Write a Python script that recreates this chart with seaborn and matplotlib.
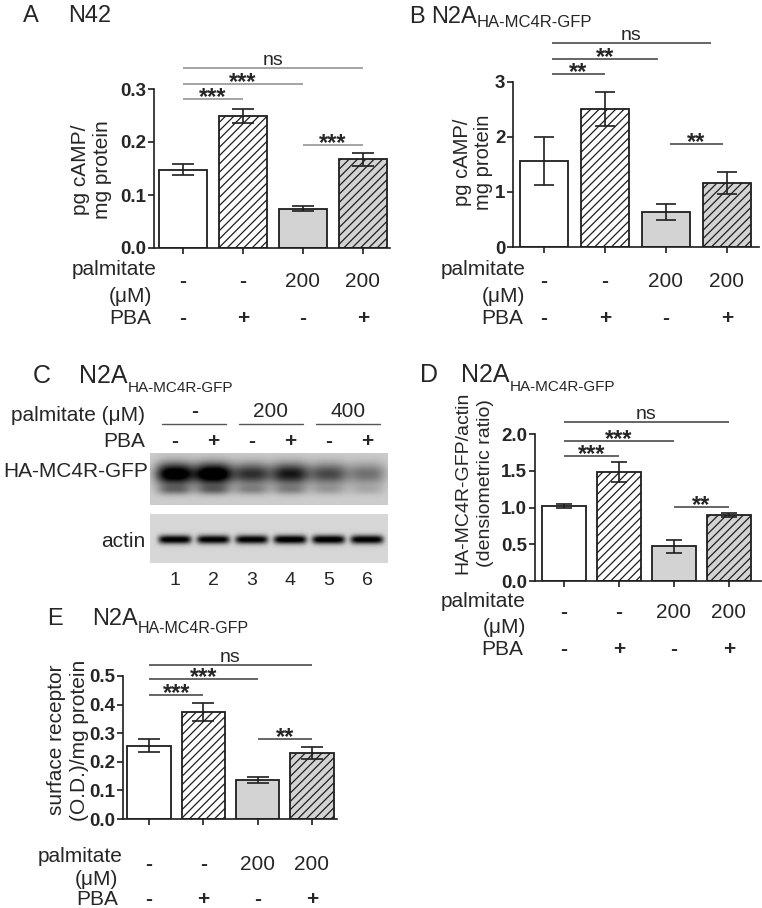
import numpy as np
import pandas as pd
import matplotlib
matplotlib.use("Agg")
import matplotlib.pyplot as plt
import matplotlib.transforms as mtransforms
import seaborn as sns

W, H = 762, 908

# ---------------- data ----------------
conditions = ["ctrl", "PBA", "palmitate", "palmitate+PBA"]
palmitate_labels = ["-", "-", "200", "200"]
pba_labels = ["-", "+", "-", "+"]

a_means = [0.148, 0.249, 0.074, 0.167]
a_errs = [0.011, 0.013, 0.005, 0.012]
a_yticks = [0.0, 0.1, 0.2, 0.3]
a_yticklabels = ["0.0", "0.1", "0.2", "0.3"]
a_sig = [(0, 1, 0.281, "***"), (0, 2, 0.309, "***"), (0, 3, 0.340, "ns"), (2, 3, 0.194, "***")]

b_means = [1.56, 2.51, 0.64, 1.16]
b_errs = [0.44, 0.31, 0.15, 0.205]
b_yticks = [0, 1, 2, 3]
b_yticklabels = ["0", "1", "2", "3"]
b_sig = [(0.13, 1.0, 3.15, "**"), (0.13, 1.87, 3.42, "**"), (0.13, 2.74, 3.71, "ns"), (2.07, 2.93, 1.87, "**")]

d_means = [1.02, 1.48, 0.47, 0.90]
d_errs = [0.03, 0.135, 0.09, 0.03]
d_yticks = [0.0, 0.5, 1.0, 1.5, 2.0]
d_yticklabels = ["0.0", "0.5", "1.0", "1.5", "2.0"]
d_sig = [(0, 1, 1.70, "***"), (0, 2, 1.90, "***"), (0, 3, 2.16, "ns"), (2, 3, 1.01, "**")]

e_means = [0.256, 0.374, 0.137, 0.232]
e_errs = [0.023, 0.033, 0.010, 0.021]
e_yticks = [0.0, 0.1, 0.2, 0.3, 0.4, 0.5]
e_yticklabels = ["0.0", "0.1", "0.2", "0.3", "0.4", "0.5"]
e_sig = [(0, 1, 0.432, "***"), (0, 2, 0.491, "***"), (0, 3, 0.54, "ns"), (2, 3, 0.279, "**")]

# western blot (panel C)
lane_numbers = ["1", "2", "3", "4", "5", "6"]
blot_palmitate_groups = ["-", "200", "400"]
blot_pba = ["-", "+", "-", "+", "-", "+"]
mc4r_band = [0.95, 1.0, 0.62, 0.72, 0.52, 0.36]
mc4r_lower_band = [0.30, 0.32, 0.22, 0.22, 0.14, 0.10]
actin_band = [0.92, 0.9, 0.9, 0.95, 0.95, 0.92]

# ---------------- style ----------------
sns.set_style("ticks")
plt.rcParams["font.family"] = ["Liberation Sans", "DejaVu Sans"]
ink = "#1e1e1e"
plt.rcParams["hatch.color"] = ink
plt.rcParams["hatch.linewidth"] = 0.9
bar_fills = ["#ffffff", "#ffffff", "#d3d3d3", "#d3d3d3"]
bar_hatches = ["", "////", "", "////"]

fig = plt.figure(figsize=(W / 100, H / 100), dpi=100)
fig.patch.set_facecolor("white")


def px_rect(l, t, r, b):
    return [l / W, 1 - b / H, (r - l) / W, (b - t) / H]


def fy(y):
    return 1 - y / H


def title(letter, letter_x, main_x, baseline, main, sub=None, size=17, subsize=11.5, drop=8):
    fig.text(letter_x / W, fy(baseline), letter, fontsize=size, va="baseline", ha="left")
    t = fig.text(main_x / W, fy(baseline), main, fontsize=size, va="baseline", ha="left")
    if sub:
        r = fig.canvas.get_renderer()
        bb = t.get_window_extent(renderer=r)
        fig.text(bb.x1 / W, fy(baseline + drop), sub, fontsize=subsize, va="baseline", ha="left")


def bar_panel(rect, xlim, ylim, yticks, yticklabels, means, errs, sig, capsize,
              sig_color, rows, ylabel, ylabel_xy, ylabel_size=15, ylabel_ls=1.0):
    ax = fig.add_axes(px_rect(*rect))
    df = pd.DataFrame({"condition": conditions, "value": means})
    sns.barplot(data=df, x="condition", y="value", hue="condition", order=conditions,
                hue_order=conditions, palette=dict(zip(conditions, bar_fills)),
                width=0.8, errorbar=None, legend=False, saturation=1,
                edgecolor=ink, linewidth=1.3, ax=ax)
    for p, h in zip(ax.patches, bar_hatches):
        p.set_hatch(h)
    ax.errorbar(np.arange(len(means)), means, yerr=errs, fmt="none", ecolor=ink,
                elinewidth=1.2, capsize=capsize, capthick=1.2, zorder=5)
    for x1, x2, y, label in sig:
        ax.plot([x1, x2], [y, y], color=sig_color, lw=1.1, clip_on=False,
                solid_capstyle="butt")
        if label == "ns":
            ax.annotate(label, xy=((x1 + x2) / 2, y), xytext=(0, 3),
                        textcoords="offset pixels", ha="center", va="baseline",
                        fontsize=14, annotation_clip=False)
        else:
            ax.annotate(label, xy=((x1 + x2) / 2, y), xytext=(0, -5),
                        textcoords="offset pixels", ha="center", va="baseline",
                        fontsize=17, fontweight="bold", annotation_clip=False)
    ax.set_xlim(*xlim)
    ax.set_ylim(*ylim)
    ax.set_yticks(yticks)
    ax.set_yticklabels(yticklabels, fontweight="bold", fontsize=13.5)
    ax.set_xticks(np.arange(len(means)))
    ax.set_xticklabels([])
    ax.set_xlabel("")
    ax.set_ylabel("")
    for s in ["top", "right"]:
        ax.spines[s].set_visible(False)
    for s in ["left", "bottom"]:
        ax.spines[s].set_linewidth(1.2)
        ax.spines[s].set_color(ink)
    ax.tick_params(direction="out", length=4.5, width=1.2, color=ink, pad=1)
    ax.patch.set_alpha(0)

    palm_y, val_y, um_y, pba_y, lab_r, um_r, pba_r = rows
    trans = mtransforms.blended_transform_factory(ax.transData, fig.transFigure)
    for i, (pl, pb) in enumerate(zip(palmitate_labels, pba_labels)):
        ax.text(i, fy(val_y), pl, transform=trans, ha="center", va="baseline", fontsize=15,
                fontweight="bold" if pl in "-+" else "normal")
        ax.text(i, fy(pba_y), pb, transform=trans, ha="center", va="baseline", fontsize=15,
                fontweight="bold")
    fig.text(lab_r / W, fy(palm_y), "palmitate", ha="right", va="baseline", fontsize=15)
    fig.text(um_r / W, fy(um_y), "(μM)", ha="right", va="baseline", fontsize=15)
    fig.text(pba_r / W, fy(pba_y), "PBA", ha="right", va="baseline", fontsize=15)
    fig.text(ylabel_xy[0] / W, fy(ylabel_xy[1]), ylabel, rotation=90, ha="center",
             va="center", multialignment="center", fontsize=ylabel_size,
             linespacing=ylabel_ls)
    return ax


# ---------------- panel A ----------------
title("A", 23, 68, 22, "N42")
bar_panel((154, 89, 390, 248), (-0.483, 3.45), (0, 0.3), a_yticks, a_yticklabels,
          a_means, a_errs, a_sig, 8, "#8c8c8c",
          (275, 287, 302, 324, 157, 152, 151), "pg cAMP/\nmg protein", (92, 170),
          15, 1.2)

# ---------------- panel B ----------------
title("B", 409, 431, 23, "N2A", "HA-MC4R-GFP", 17, 12, 4)
bar_panel((513, 82, 759, 247), (-0.508, 3.525), (0, 3), b_yticks, b_yticklabels,
          b_means, b_errs, b_sig, 7, "#3c3c3c",
          (275, 287, 302, 324, 526, 525, 523), "pg cAMP/\nmg protein", (473, 162),
          14.5, 1.1)

# ---------------- panel C (western blot) ----------------
title("C", 33, 79, 383, "N2A", "HA-MC4R-GFP", 18, 11, 9)
lane_x0, lane_step = 175.0, 38.4
lane_x = [lane_x0 + i * lane_step for i in range(len(lane_numbers))]

blot_l, blot_r = 150, 388


def blot_axes(top, bottom, bands, bg):
    ax = fig.add_axes(px_rect(blot_l, top, blot_r, bottom))
    w, h = blot_r - blot_l, bottom - top
    X, Y = np.meshgrid(np.arange(w) + 0.5 + blot_l, np.arange(h) + 0.5)
    dark = np.full(X.shape, bg)
    for yc, sy, hw, pw, intens in bands:
        for xc, I in zip(lane_x, intens):
            dark += I * np.exp(-(np.abs(X - xc) / hw) ** pw) * np.exp(-((Y - yc) / sy) ** 2)
    gray = 1 - np.clip(dark, 0, 1)
    ax.imshow(gray, cmap="gray", vmin=0, vmax=1, aspect="auto",
              interpolation="bilinear", extent=(blot_l, blot_r, h, 0))
    ax.axis("off")
    return ax


blot_axes(453, 505, [(21, 11, 19, 3, mc4r_band), (37, 5, 17, 3, mc4r_lower_band)], 0.2)
blot_axes(514, 563, [(26, 4.2, 16.5, 6, actin_band)], 0.16)

fig.text(145 / W, fy(421), "palmitate (μM)", ha="right", va="baseline", fontsize=15)
for g, lab in enumerate(blot_palmitate_groups):
    cx = (lane_x[2 * g] + lane_x[2 * g + 1]) / 2
    fig.text(cx / W, fy(417), lab, ha="center", va="baseline", fontsize=15,
             fontweight="bold" if lab == "-" else "normal")
    fig.add_artist(plt.Line2D([(cx - 32) / W, (cx + 32) / W], [fy(424), fy(424)],
                              transform=fig.transFigure, color="#555555", lw=1.0))
fig.text(145 / W, fy(447), "PBA", ha="right", va="baseline", fontsize=15)
for x, s in zip(lane_x, blot_pba):
    fig.text(x / W, fy(447), s, ha="center", va="baseline", fontsize=15, fontweight="bold")
fig.text(148 / W, fy(477), "HA-MC4R-GFP", ha="right", va="baseline", fontsize=15)
fig.text(145 / W, fy(547), "actin", ha="right", va="baseline", fontsize=15)
for x, n in zip(lane_x, lane_numbers):
    fig.text(x / W, fy(585), n, ha="center", va="baseline", fontsize=14)

# ---------------- panel D ----------------
title("D", 420, 461, 382, "N2A", "HA-MC4R-GFP", 18, 11, 9)
bar_panel((535, 434, 761, 581), (-0.527, 3.582), (0, 2), d_yticks, d_yticklabels,
          d_means, d_errs, d_sig, 5.5, "#3c3c3c",
          (607, 618, 633, 655, 526, 526, 523),
          "HA-MC4R-GFP/actin\n(densiometric ratio)", (474, 483), 14, 1.4)

# ---------------- panel E ----------------
title("E", 47, 92, 625, "N2A", "HA-MC4R-GFP", 17, 11.5, 8)
bar_panel((123, 676, 337, 819), (-0.479, 3.462), (0, 0.5), e_yticks, e_yticklabels,
          e_means, e_errs, e_sig, 8, "#3c3c3c",
          (862, 870, 885, 905, 123, 118, 118),
          "surface receptor\n(O.D.)/mg protein", (68, 740), 15, 1.25)

fig.savefig("out.png", dpi=100, facecolor="white")
